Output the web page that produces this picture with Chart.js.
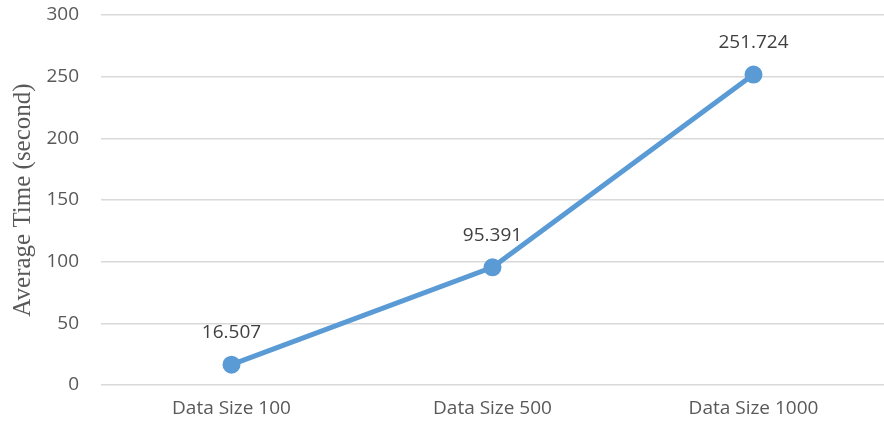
<!DOCTYPE html>
<html><head><meta charset="utf-8">
<script src="https://cdn.jsdelivr.net/npm/chart.js@4/dist/chart.umd.min.js"></script>
<style>html,body{margin:0;padding:0;background:#fff;overflow:hidden}#w{width:884px;height:430px}</style>
</head><body><div id="w"><canvas id="c"></canvas></div>
<script>
const categories = ["Data Size 100", "Data Size 500", "Data Size 1000"];
const avgTime = [16.507, 95.391, 251.724];
const valueLabels = ["16.507", "95.391", "251.724"];
const yTicks = [0, 50, 100, 150, 200, 250, 300];
const yTitle = "Average Time (second)";

const FONT = '"Open Sans", "Liberation Sans", sans-serif';

const labelPlugin = {
  id: 'valueLabels',
  afterDatasetsDraw(chart) {
    const ctx = chart.ctx;
    const meta = chart.getDatasetMeta(0);
    ctx.save();
    ctx.font = '19px ' + FONT;
    ctx.fillStyle = '#404040';
    ctx.textAlign = 'center';
    ctx.textBaseline = 'middle';
    meta.data.forEach((pt, i) => {
      ctx.fillText(valueLabels[i], pt.x, pt.y - 32);
    });
    ctx.restore();
  }
};

new Chart(document.getElementById('c'), {
  type: 'line',
  data: {
    labels: categories,
    datasets: [{
      data: avgTime,
      borderColor: '#5B9BD5',
      backgroundColor: '#5B9BD5',
      borderWidth: 5,
      pointRadius: 6.5,
      pointHoverRadius: 6.5,
      pointBackgroundColor: '#5B9BD5',
      pointBorderColor: '#5B9BD5',
      tension: 0
    }]
  },
  options: {
    responsive: true,
    maintainAspectRatio: false,
    animation: false,
    layout: { autoPadding: false, padding: { top: 15, right: 0, left: 0, bottom: 0 } },
    plugins: { legend: { display: false }, tooltip: { enabled: false } },
    scales: {
      x: {
        offset: true,
        grid: { display: false, drawTicks: false },
        border: { display: false },
        ticks: { color: '#595959', font: { size: 19, family: FONT }, padding: 12, maxRotation: 0 },
        afterFit(s) { s.height = 45; }
      },
      y: {
        min: 0, max: 300,
        afterBuildTicks(s) { s.ticks = yTicks.map(v => ({ value: v })); },
        grid: { color: '#d9d9d9', lineWidth: 1.5, drawTicks: false },
        border: { display: false },
        ticks: { color: '#595959', font: { size: 19, family: FONT }, padding: 22 },
        title: { display: true, text: yTitle, color: '#595959', font: { size: 25, family: '"Liberation Serif", "DejaVu Serif", serif' }, padding: { top: 8, bottom: 0 } },
        afterFit(s) { s.width = 101; s.paddingTop = 0; s.paddingBottom = 0; }
      }
    }
  },
  plugins: [labelPlugin, {
    id: 'fixArea',
    beforeLayout(chart) {},
    afterLayout(chart) {
      const y = chart.scales.y;
      // keep plot box: top 15, bottom 385
    }
  }]
});
</script>
</body></html>
